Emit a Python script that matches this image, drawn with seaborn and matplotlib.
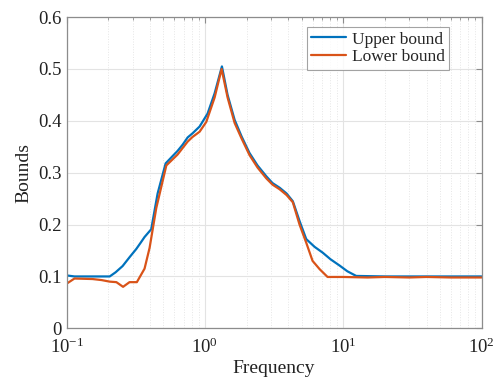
import numpy as np
import pandas as pd
import matplotlib
matplotlib.use("Agg")
import matplotlib.pyplot as plt
import seaborn as sns
from matplotlib.ticker import LogLocator, FixedLocator

# Upper bound curve
freq_upper = [0.100, 0.114, 0.205, 0.226, 0.254, 0.285, 0.319, 0.343, 0.366, 0.409,
              0.455, 0.520, 0.574, 0.634, 0.690, 0.750, 0.814, 0.915, 1.045, 1.175,
              1.327, 1.458, 1.639, 1.840, 2.100, 2.400, 2.780, 3.080, 3.470, 3.890,
              4.320, 4.830, 5.400, 6.210, 7.090, 8.100, 9.410, 10.70, 12.40, 20.0,
              40.0, 100.0]
upper = [0.102, 0.100, 0.100, 0.108, 0.120, 0.137, 0.153, 0.165, 0.176, 0.191,
         0.260, 0.318, 0.330, 0.342, 0.354, 0.368, 0.376, 0.389, 0.414, 0.453,
         0.505, 0.450, 0.402, 0.370, 0.338, 0.314, 0.293, 0.280, 0.271, 0.260,
         0.245, 0.207, 0.172, 0.157, 0.146, 0.133, 0.121, 0.110, 0.101, 0.100,
         0.100, 0.100]

# Lower bound curve
freq_lower = [0.100, 0.114, 0.154, 0.179, 0.205, 0.229, 0.256, 0.285, 0.322, 0.366,
              0.398, 0.445, 0.526, 0.634, 0.750, 0.814, 0.915, 1.023, 1.175, 1.320,
              1.458, 1.639, 1.840, 2.100, 2.400, 2.780, 3.080, 3.470, 3.890, 4.320,
              4.830, 5.400, 6.000, 6.750, 7.700, 10.0, 15.0, 20.0, 30.0, 40.0,
              60.0, 80.0, 100.0]
lower = [0.086, 0.096, 0.095, 0.093, 0.090, 0.089, 0.080, 0.089, 0.089, 0.115,
         0.155, 0.232, 0.314, 0.335, 0.360, 0.369, 0.379, 0.398, 0.445, 0.500,
         0.445, 0.396, 0.366, 0.334, 0.310, 0.289, 0.277, 0.268, 0.257, 0.243,
         0.200, 0.165, 0.130, 0.114, 0.099, 0.099, 0.098, 0.099, 0.098, 0.099,
         0.098, 0.098, 0.098]

df = pd.concat([
    pd.DataFrame({"Frequency": freq_upper, "Bounds": upper, "series": "Upper bound"}),
    pd.DataFrame({"Frequency": freq_lower, "Bounds": lower, "series": "Lower bound"}),
])

sns.set_theme(style="white")
plt.rcParams["font.family"] = ["Liberation Serif", "DejaVu Serif"]
plt.rcParams["mathtext.fontset"] = "custom"
plt.rcParams["mathtext.rm"] = "Liberation Serif"
plt.rcParams["mathtext.it"] = "Liberation Serif:italic"

fig = plt.figure(figsize=(4.97, 3.89), dpi=100)
ax = fig.add_axes([0.134, 0.156, 0.835, 0.800])

palette = {"Upper bound": "#0072BD", "Lower bound": "#D95319"}
sns.lineplot(data=df, x="Frequency", y="Bounds", hue="series", palette=palette,
             linewidth=1.6, ax=ax, sort=False, estimator=None)

ax.set_xscale("log")
ax.set_xlim(0.1, 100)
ax.set_ylim(0, 0.6)
ax.set_yticks([0, 0.1, 0.2, 0.3, 0.4, 0.5, 0.6])
ax.set_yticklabels(["0", "0.1", "0.2", "0.3", "0.4", "0.5", "0.6"])
ax.xaxis.set_major_locator(FixedLocator([0.1, 1, 10, 100]))
ax.set_xticklabels([r"$10^{-1}$", r"$10^{0}$", r"$10^{1}$", r"$10^{2}$"])
ax.xaxis.set_minor_locator(LogLocator(base=10, subs=np.arange(2, 10), numticks=20))

ax.grid(True, which="major", color="#e3e3e3", linewidth=0.8, linestyle="-")
ax.grid(True, which="minor", axis="x", color="#e6e6e6", linewidth=0.7, linestyle=":")
ax.set_axisbelow(True)

for s in ax.spines.values():
    s.set_color("#8c8c8c")
    s.set_linewidth(0.9)
ax.tick_params(which="both", direction="in", top=True, right=True, colors="#8c8c8c",
               labelcolor="#222222", labelsize=13.5)
ax.tick_params(which="major", length=4, width=0.8)
ax.tick_params(which="minor", length=2.5, width=0.6)
ax.tick_params(axis="x", pad=7)

ax.set_xlabel("Frequency", fontsize=14, color="#222222", labelpad=2)
ax.set_ylabel("Bounds", fontsize=14, color="#222222", labelpad=4)

leg = ax.legend(loc="upper right", bbox_to_anchor=(0.922, 0.968), fontsize=12.5,
                frameon=True, fancybox=False, edgecolor="#8c8c8c",
                handlelength=2.0, handletextpad=0.35, borderpad=0.25,
                labelspacing=0.1, borderaxespad=0.0)
leg.get_frame().set_linewidth(0.8)

fig.savefig("out.png", dpi=100)
